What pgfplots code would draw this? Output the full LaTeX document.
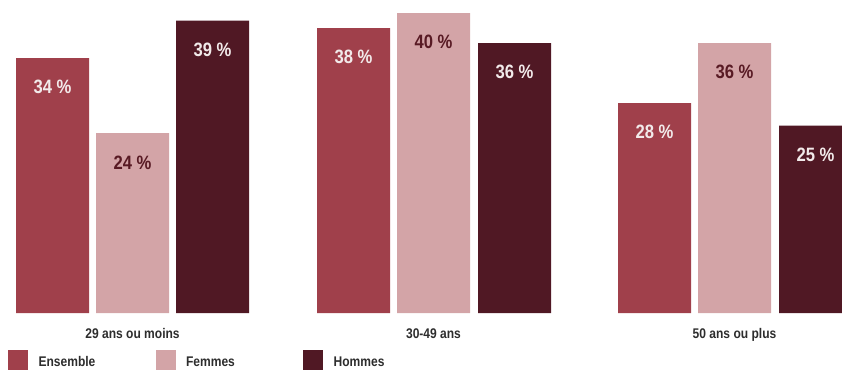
\documentclass[border=0pt]{standalone}
\usepackage{pgfplots}
\pgfplotsset{compat=1.18}
\usepackage{fontspec}
\setmainfont{Liberation Sans}[FakeStretch=0.86]
\definecolor{cEns}{RGB}{160,64,75}
\definecolor{cFem}{RGB}{211,164,167}
\definecolor{cHom}{RGB}{80,24,36}
\definecolor{cLight}{RGB}{242,234,234}
\definecolor{cDark}{RGB}{88,26,36}
\definecolor{cText}{RGB}{45,45,45}
\begin{document}
\begin{tikzpicture}
\begin{axis}[
  x=0.75pt, y=5.625pt, scale only axis,
  xmin=0, xmax=842, ymin=-7.4667, ymax=41.7333,
  axis line style={draw=none},
  major tick length=0pt,
  ytick=\empty,
  xtick={132.5,433.5,734.5},
  xticklabels={29 ans ou moins,30-49 ans,50 ans ou plus},
  xticklabel style={anchor=base, yshift=23.25pt, font=\bfseries\fontsize{10.5}{12}\selectfont, text=cText},
  /pgf/number format/assume math mode=true,
  clip=true,
  legend columns=3,
  legend style={at={(0.0095,0.0515)}, anchor=north west, draw=none, fill=none,
    inner sep=0pt, outer sep=0pt, cells={anchor=base west},
    nodes={inner xsep=0pt, inner ysep=0pt, text width=87.75pt, align=left,
      font=\bfseries\fontsize{10.5}{12}\selectfont, text=cText}},
  nodes near coords={\pgfmathprintnumber{\pgfplotspointmeta}\ \%},
  every node near coord/.append style={anchor=center, yshift=-22pt,
    font=\bfseries\fontsize{14.5}{16}\selectfont},
]
% Ensemble
\addplot[ybar, bar width=54.75pt, bar shift=0pt, fill=cEns, draw=none, forget plot,
  every node near coord/.append style={text=cLight}]
  coordinates {(52.5,34) (353.5,38) (654.5,28)};
% Femmes
\addplot[ybar, bar width=54.75pt, bar shift=0pt, fill=cFem, draw=none, forget plot,
  every node near coord/.append style={text=cDark}]
  coordinates {(132.5,24) (433.5,40) (734.5,36)};
% Hommes
\addplot[ybar, bar width=54.75pt, bar shift=0pt, fill=cHom, draw=none, forget plot,
  every node near coord/.append style={text=cLight}]
  coordinates {(212.5,39) (514.5,36) (815.5,25)};
\addlegendimage{legend image code/.code={\fill[cEns] (0pt,-2.5pt) rectangle (14.25pt,12pt); \path (22.5pt,0pt);}}
\addlegendentry{Ensemble}
\addlegendimage{legend image code/.code={\fill[cFem] (0pt,-2.5pt) rectangle (14.25pt,12pt); \path (22.5pt,0pt);}}
\addlegendentry{Femmes}
\addlegendimage{legend image code/.code={\fill[cHom] (0pt,-2.5pt) rectangle (14.25pt,12pt); \path (22.5pt,0pt);}}
\addlegendentry{Hommes}
\end{axis}
\pgfresetboundingbox
\useasboundingbox (current axis.south west) rectangle (current axis.north east);
\end{tikzpicture}
\end{document}
